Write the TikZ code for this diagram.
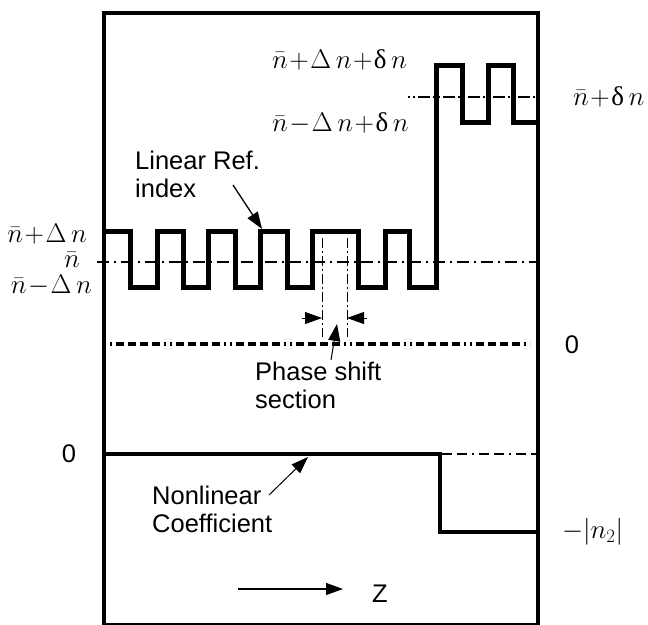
\documentclass[tikz,border=0pt]{standalone}
\usepackage{fix-cm}
\usepackage[no-math]{fontspec}
\newfontfamily\lsans{Liberation Sans}
\newfontfamily\lserif{Liberation Serif}
\usetikzlibrary{arrows.meta}
\newcommand{\dlt}{\hbox{\lserif δ}}
\newcommand{\tm}[1]{$\medmuskip=1mu\relax #1$}
\begin{document}
\begin{tikzpicture}[x=1pt,y=-1pt,
  frame/.style={line width=4.5pt,line join=miter},
  profile/.style={line width=5pt,line join=miter},
  slab/.style={font=\lsans\fontsize{25.5}{28}\selectfont,inner sep=0pt,align=left},
  mlab/.style={font=\fontsize{27}{30}\selectfont,inner sep=0pt},
  callout/.style={line width=1.3pt,-{Triangle[length=17pt,width=12pt]}},
  marker/.style={line width=0.8pt,-{Triangle[length=17pt,width=12pt]}},
  guideline/.style={line width=1.2pt,dash pattern=on 12pt off 5pt on 2pt off 5pt},
  zeroline/.style={line width=4pt,dash pattern=on 2pt off 4pt on 8pt off 4pt on 8pt off 4pt on 8pt off 4pt on 8pt off 4pt on 2pt off 4pt},
  topguide/.style={line width=1.2pt,dash pattern=on 2pt off 3pt on 2pt off 3pt on 12pt off 3pt},
  lowguide/.style={line width=1.2pt,dash pattern=on 10pt off 5pt on 10pt off 5pt on 2pt off 5pt},
  psline/.style={line width=0.9pt,dash pattern=on 10pt off 3pt on 2pt off 3pt}]
\useasboundingbox (0,0) rectangle (648,624);

% frame
\draw[frame] (104,625.5) -- (104,13) -- (538,13) -- (538,625.5) -- cycle;

% guide lines
\draw[guideline] (97,262) -- (538,262);
\draw[topguide] (408,97) -- (538,97);
\draw[zeroline] (110,344) -- (530,344);
\draw[lowguide] (442,454) -- (536,454);

% linear refractive index profile
\draw[profile] (104,231) -- (130,231) -- (130,287) -- (157,287) -- (157,231)
  -- (183,231) -- (183,287) -- (208,287) -- (208,231) -- (235,231) -- (235,287)
  -- (260,287) -- (260,231) -- (287,231) -- (287,287) -- (312,287) -- (312,231)
  -- (358,231) -- (358,287) -- (385,287) -- (385,231) -- (409,231) -- (409,287)
  -- (436,287) -- (436,65) -- (462,65) -- (462,122) -- (488,122) -- (488,65)
  -- (513,65) -- (513,122) -- (538,122);

% nonlinear coefficient profile
\draw[frame] (104,454) -- (440,454) -- (440,532) -- (538,532);

% phase shift section markers
\coordinate (p1t) at (322,238); \coordinate (p1b) at (322,337);
\coordinate (p2t) at (347,238); \coordinate (p2b) at (347,337);
\draw[psline] (p1t) -- (p1b);
\draw[psline] (p2t) -- (p2b);
\coordinate (m1s) at (302,318); \coordinate (m1e) at (322,318);
\coordinate (m2s) at (367,318); \coordinate (m2e) at (347,318);
\draw[marker] (m1s) -- (m1e);
\draw[marker] (m2s) -- (m2e);

% left labels
\node[mlab,anchor=base east] (lhi) at (87,242) {\tm{\bar n+\Delta\,n}};
\node[mlab,anchor=base east] (lmid) at (80,267) {\tm{\bar n}};
\node[mlab,anchor=base east] (llo) at (92,293) {\tm{\bar n-\Delta\,n}};

% upper labels
\node[mlab,anchor=base west] (uhi) at (272,68) {\tm{\bar n+\Delta\,n+\dlt\,n}};
\node[mlab,anchor=base west] (ulo) at (272,131) {\tm{\bar n-\Delta\,n+\dlt\,n}};
\node[mlab,anchor=base west] (rmid) at (573,105) {\tm{\bar n+\dlt\,n}};

% zero labels
\node[slab,anchor=base] (zr) at (572,353) {0};
\node[slab,anchor=base] (zl) at (69,462) {0};
\node[mlab,anchor=base west] (n2) at (562,538) {\tm{-|n_2|}};

% text labels
\node[slab,anchor=west] (lin) at (135,174) {Linear Ref.\\index};
\node[slab,anchor=west] (phs) at (255,385) {Phase shift\\section};
\node[slab,anchor=west] (nlc) at (152,509) {Nonlinear\\Coefficient};

% callout arrows
\coordinate (lint) at (233,185); \coordinate (linh) at (262,229);
\draw[callout] (lint) -- (linh);
\coordinate (phst) at (331,360); \coordinate (phsh) at (337,324);
\draw[callout,line width=1pt] (phst) -- (phsh);
\coordinate (nlct) at (269,495); \coordinate (nlch) at (308,457);
\draw[callout,line width=1pt] (nlct) -- (nlch);

% z axis
\coordinate (za) at (238,589); \coordinate (zb) at (343,589);
\draw[callout,line width=1.2pt] (za) -- (zb);
\node[slab,anchor=base] (zlab) at (380,602) {Z};
\end{tikzpicture}
\end{document}
